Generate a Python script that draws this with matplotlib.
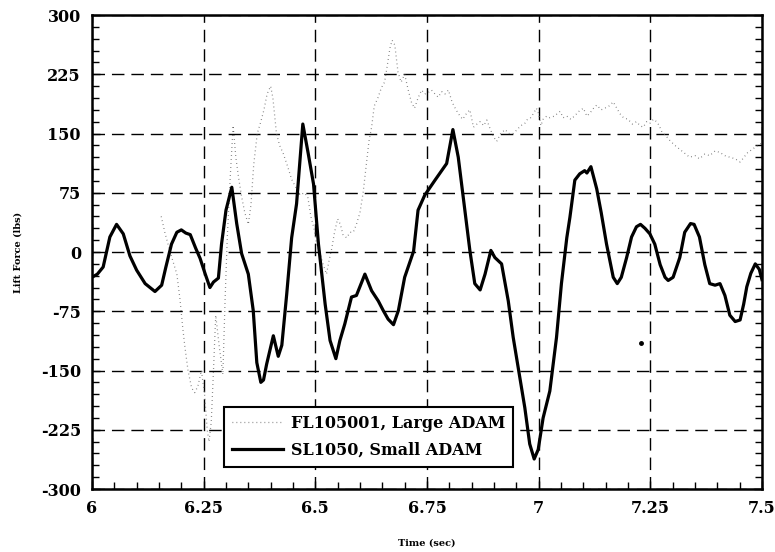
import matplotlib.pyplot as plt
from matplotlib.ticker import MultipleLocator

# FL105001, Large ADAM (dotted trace)
t_large = [6.155, 6.163, 6.175, 6.19, 6.197, 6.203, 6.208, 6.215, 6.223, 6.23,
           6.237, 6.245, 6.252, 6.258, 6.262, 6.267, 6.272, 6.277, 6.285, 6.293,
           6.298, 6.303, 6.31, 6.316, 6.322, 6.328, 6.335, 6.342, 6.35, 6.356,
           6.362, 6.37, 6.378, 6.385, 6.392, 6.4, 6.405, 6.413, 6.42, 6.428,
           6.437, 6.447, 6.458, 6.466, 6.475, 6.483, 6.49, 6.497, 6.503, 6.51,
           6.517, 6.525, 6.531, 6.537, 6.543, 6.55, 6.556, 6.562, 6.57, 6.578,
           6.585, 6.592, 6.6, 6.607, 6.615, 6.62, 6.626, 6.632, 6.64, 6.648,
           6.655, 6.66, 6.667, 6.672, 6.678, 6.685, 6.692, 6.7, 6.708, 6.715,
           6.722, 6.73, 6.738, 6.745, 6.753, 6.76, 6.768, 6.775, 6.783, 6.79,
           6.798, 6.806, 6.815, 6.824, 6.83, 6.838, 6.846, 6.854, 6.862, 6.869,
           6.877, 6.884, 6.892, 6.9, 6.906, 6.915, 6.925, 6.933, 6.943, 6.952,
           6.96, 6.968, 6.975, 6.982, 6.988, 6.995, 7.0, 7.005, 7.01, 7.018,
           7.025, 7.035, 7.048, 7.055, 7.063, 7.072, 7.08, 7.09, 7.1, 7.108,
           7.115, 7.123, 7.13, 7.14, 7.148, 7.158, 7.167, 7.175, 7.182, 7.19,
           7.2, 7.21, 7.219, 7.227, 7.234, 7.242, 7.249, 7.257, 7.264, 7.27,
           7.275, 7.285, 7.294, 7.305, 7.316, 7.327, 7.338, 7.35, 7.36, 7.372,
           7.383, 7.395, 7.406, 7.417, 7.428, 7.44, 7.451, 7.46, 7.466, 7.478,
           7.488, 7.5]
v_large = [45, 25, 0, -28, -60, -95, -120, -150, -172, -178,
           -170, -150, -180, -225, -240, -215, -150, -80, -120, -155,
           -60, 20, 100, 160, 120, 95, 70, 50, 35, 60,
           110, 150, 165, 180, 200, 210, 195, 150, 135, 125,
           110, 92, 80, 72, 75, 70, 45, 30, 10, 0,
           -15, -28, -10, 5, 25, 42, 35, 22, 18, 25,
           25, 35, 50, 75, 115, 140, 158, 185, 195, 208,
           215, 232, 258, 268, 262, 228, 215, 225, 205, 190,
           182, 195, 205, 200, 202, 205, 200, 196, 203, 200,
           205, 190, 180, 172, 168, 175, 180, 158, 162, 165,
           160, 167, 155, 145, 140, 150, 155, 150, 150, 155,
           160, 162, 168, 170, 175, 182, 175, 160, 168, 172,
           170, 172, 178, 170, 172, 168, 172, 178, 182, 172,
           176, 182, 186, 180, 182, 185, 190, 182, 175, 170,
           168, 162, 165, 160, 158, 165, 163, 168, 165, 160,
           153, 147, 141, 135, 130, 125, 120, 122, 118, 124,
           122, 128, 126, 122, 120, 118, 114, 120, 125, 130,
           134, 138]

# SL1050, Small ADAM (solid trace)
t_small = [6.0, 6.012, 6.025, 6.04, 6.055, 6.07, 6.085, 6.1, 6.119, 6.141,
           6.156, 6.165, 6.178, 6.19, 6.2, 6.21, 6.22, 6.232, 6.242, 6.253,
           6.264, 6.272, 6.283, 6.29, 6.3, 6.313, 6.324, 6.335, 6.35, 6.361,
           6.369, 6.378, 6.384, 6.391, 6.406, 6.417, 6.425, 6.436, 6.447, 6.458,
           6.472, 6.484, 6.496, 6.507, 6.522, 6.533, 6.546, 6.555, 6.566, 6.581,
           6.592, 6.611, 6.626, 6.641, 6.652, 6.663, 6.675, 6.686, 6.7, 6.72,
           6.73, 6.745, 6.768, 6.783, 6.794, 6.808, 6.82, 6.831, 6.846, 6.857,
           6.869, 6.88, 6.893, 6.902, 6.917, 6.932, 6.943, 6.958, 6.969, 6.98,
           6.99, 6.999, 7.01, 7.025, 7.04, 7.051, 7.063, 7.07, 7.081, 7.092,
           7.103, 7.108, 7.117, 7.13, 7.14, 7.152, 7.167, 7.176, 7.185, 7.197,
           7.208, 7.219, 7.228, 7.238, 7.249, 7.26, 7.272, 7.283, 7.29, 7.301,
           7.316, 7.327, 7.34, 7.348, 7.36, 7.372, 7.383, 7.395, 7.406, 7.417,
           7.428, 7.44, 7.451, 7.459, 7.466, 7.475, 7.485, 7.494, 7.5]
v_small = [-32, -28, -19, 19, 35, 23, -5, -23, -40, -50,
           -42, -20, 10, 25, 28, 24, 22, 5, -8, -27,
           -45, -38, -33, 10, 53, 82, 36, -2, -28, -74,
           -140, -165, -162, -142, -106, -132, -118, -53, 18, 61,
           162, 125, 86, 10, -66, -112, -135, -112, -91, -57,
           -55, -28, -49, -62, -74, -85, -92, -74, -32, 1,
           53, 72, 91, 103, 112, 155, 120, 70, 2, -40,
           -48, -28, 2, -7, -15, -62, -108, -159, -197, -243,
           -262, -250, -210, -176, -108, -40, 18, 44, 91, 99,
           103, 100, 108, 80, 50, 10, -32, -40, -32, -7,
           19, 32, 35, 30, 23, 10, -16, -32, -36, -32,
           -7, 25, 36, 35, 19, -16, -40, -42, -40, -55,
           -80, -88, -86, -66, -44, -27, -15, -22, -35]

stray_t = [7.229]
stray_v = [-115]

x_ticks = [6, 6.25, 6.5, 6.75, 7, 7.25, 7.5]
x_labels = ["6", "6.25", "6.5", "6.75", "7", "7.25", "7.5"]
y_ticks = [-300, -225, -150, -75, 0, 75, 150, 225, 300]

plt.rcParams.update({
    "font.family": "DejaVu Serif",
    "font.weight": "bold",
    "axes.unicode_minus": False,
})

fig = plt.figure(figsize=(7.75, 5.52), dpi=100)
ax = fig.add_axes([0.1187, 0.1141, 0.8645, 0.8587])

ax.plot(t_large, v_large, color="0.42", lw=0.9, linestyle=(0, (0.6, 2.6)),
        label="FL105001, Large ADAM")
ax.plot(t_small, v_small, color="black", lw=2.3, label="SL1050, Small ADAM")
ax.plot(stray_t, stray_v, "o", color="black", ms=2.5)

ax.set_xlim(6, 7.5)
ax.set_ylim(-300, 300)
ax.set_xticks(x_ticks)
ax.set_xticklabels(x_labels)
ax.set_yticks(y_ticks)
ax.xaxis.set_minor_locator(MultipleLocator(0.05))
ax.yaxis.set_minor_locator(MultipleLocator(15))

ax.grid(True, which="major", color="black", lw=1.0, linestyle=(0, (9, 5)))
ax.tick_params(which="both", direction="in", labelsize=11.5, width=1.0,
               right=True, pad=8)
ax.tick_params(which="major", length=6)
ax.tick_params(which="minor", length=5)
for lab in ax.get_xticklabels() + ax.get_yticklabels():
    lab.set_fontweight("bold")
for sp in ax.spines.values():
    sp.set_linewidth(1.8)

ax.set_xlabel("Time (sec)", fontsize=7, fontweight="bold")
ax.set_ylabel("Lift Force (lbs)", fontsize=7, fontweight="bold")
ax.xaxis.set_label_coords(0.5, -0.105)
ax.yaxis.set_label_coords(-0.104, 0.5)

leg = ax.legend(loc="lower left", bbox_to_anchor=(0.185, 0.03),
                prop={"size": 11.5, "weight": "bold"}, handlelength=3.2,
                handletextpad=0.5, fancybox=False, framealpha=1,
                edgecolor="black", borderpad=0.5, labelspacing=0.62)
leg.get_frame().set_linewidth(1.5)

fig.savefig("out.png", dpi=100)
